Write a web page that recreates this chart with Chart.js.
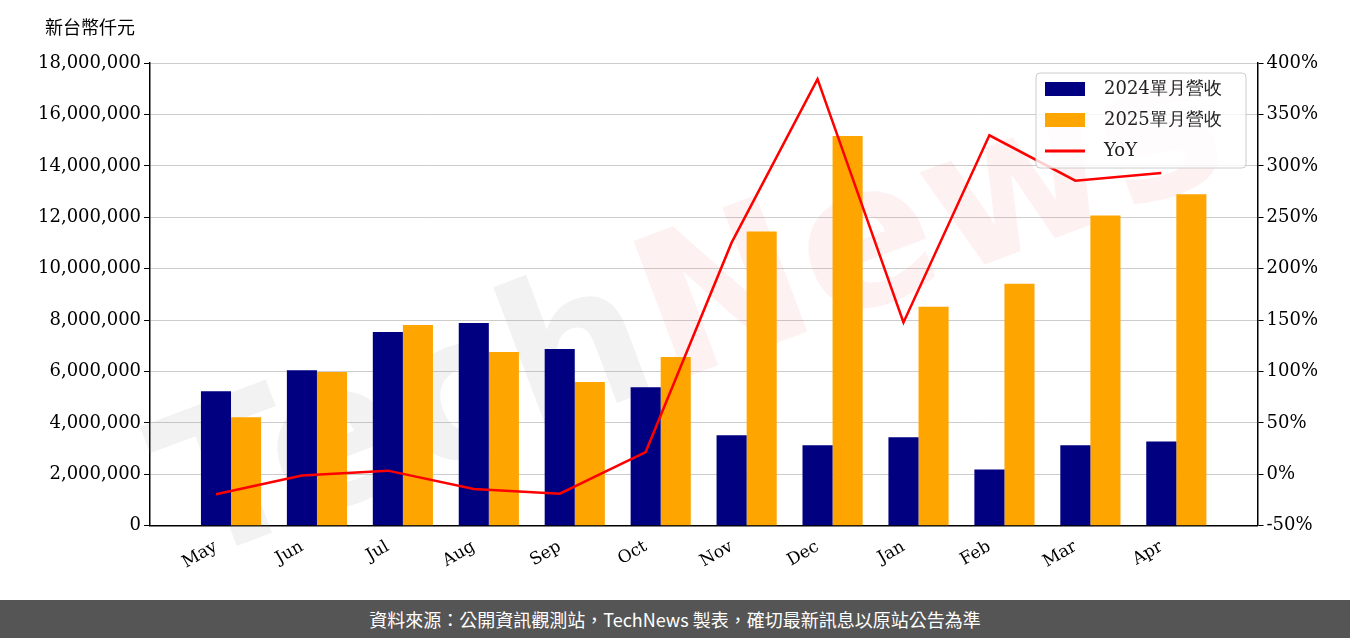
<!DOCTYPE html>
<html><head><meta charset="utf-8">
<script src="https://cdn.jsdelivr.net/npm/chart.js@4"></script>
<style>
body{margin:0;width:1350px;height:638px;overflow:hidden;background:#fff}
#wrap{position:relative;width:1350px;height:600px}
#foot{height:38px;background:#555;color:#fff;font:18px "Noto Sans CJK TC","Noto Sans";display:flex;align-items:center;justify-content:center}
</style></head><body>
<div id="wrap"><canvas id="c" width="1350" height="600"></canvas></div>
<div id="foot">資料來源：公開資訊觀測站，TechNews 製表，確切最新訊息以原站公告為準</div>
<script>
const categories=["May","Jun","Jul","Aug","Sep","Oct","Nov","Dec","Jan","Feb","Mar","Apr"];
const rev2024=[5230000,6050000,7540000,7890000,6880000,5390000,3520000,3130000,3440000,2190000,3130000,3280000];
const rev2025=[4220000,5980000,7810000,6760000,5590000,6560000,11450000,15160000,8520000,9410000,12070000,12890000];
const yoy=[-19.3,-1.2,3.6,-14.3,-18.8,21.7,225.3,384.3,147.7,329.7,285.6,293.0];
const labels=["2024單月營收","2025單月營收","YoY"];
const serif='"DejaVu Serif"';
const pts=(a,o)=>a.map((v,i)=>({x:i+o,y:v}));
const deco={id:'deco',
 beforeDatasetsDraw(ch){const c=ch.ctx;c.save();c.translate(690,320);c.rotate(-0.36);
  c.font='bold 200px "DejaVu Sans"';c.textAlign='center';c.textBaseline='middle';
  c.fillStyle='rgba(150,150,150,0.12)';c.fillText('Tech',-300,0);
  c.fillStyle='rgba(230,80,80,0.08)';c.fillText('News',260,0);c.restore();},
 afterDraw(ch){const c=ch.ctx;c.save();
  c.font='18px "Noto Sans CJK TC"';c.fillStyle='#000';c.textAlign='left';c.textBaseline='middle';
  c.fillText('新台幣仟元',45,27);
  const x=1036,y=73,w=210,h=95;c.fillStyle='rgba(255,255,255,0.8)';c.strokeStyle='#ccc';c.lineWidth=1;
  c.beginPath();c.roundRect(x,y,w,h,4);c.fill();c.stroke();
  const cols=['#000080','#FFA500','#FF0000'];c.font='18px '+serif;
  for(let i=0;i<3;i++){const yy=y+16+i*31;c.fillStyle=cols[i];
   if(i<2)c.fillRect(x+9,yy-7,40,14);else{c.strokeStyle=cols[i];c.lineWidth=3;c.beginPath();c.moveTo(x+9,yy);c.lineTo(x+49,yy);c.stroke();}
   c.fillStyle='#222';c.fillText(labels[i],x+68,yy);}
  c.restore();}};
new Chart(document.getElementById('c'),{
 data:{datasets:[
  {type:'line',label:labels[2],data:pts(yoy,0),yAxisID:'y2',borderColor:'#FF0000',borderWidth:2.5,pointRadius:0,tension:0,order:0},
  {type:'bar',label:labels[0],data:pts(rev2024,0.175),backgroundColor:'#000080',yAxisID:'y',categoryPercentage:0.7,barPercentage:1,order:1},
  {type:'bar',label:labels[1],data:pts(rev2025,0.175),backgroundColor:'#FFA500',yAxisID:'y',categoryPercentage:0.7,barPercentage:1,order:1}]},
 options:{responsive:false,animation:false,devicePixelRatio:1,
  layout:{padding:{left:35,right:29,top:63,bottom:24}},
  plugins:{legend:{display:false},tooltip:{enabled:false}},
  scales:{
   x:{type:'linear',offset:false,min:-0.767,max:12.12,grid:{display:false},border:{color:'#000',width:1.5},
     afterBuildTicks:s=>{s.ticks=categories.map((c,i)=>({value:i}));},
     ticks:{color:'#000',font:{family:serif,size:17},maxRotation:30,minRotation:30,autoSkip:false,callback:v=>categories[v]}},
   y:{min:0,max:18000000,position:'left',border:{color:'#000',width:1.5},
     grid:{color:'#ccc',tickColor:'#000',tickLength:6},
     ticks:{stepSize:2000000,color:'#000',font:{family:serif,size:18},callback:v=>v.toLocaleString('en-US')}},
   y2:{min:-50,max:400,position:'right',border:{color:'#000',width:1.5},grid:{drawOnChartArea:false,tickColor:'#000',tickLength:6},
     ticks:{stepSize:50,color:'#000',font:{family:serif,size:18},callback:v=>v+'%'}}}},
 plugins:[deco]});
</script>
</body></html>
